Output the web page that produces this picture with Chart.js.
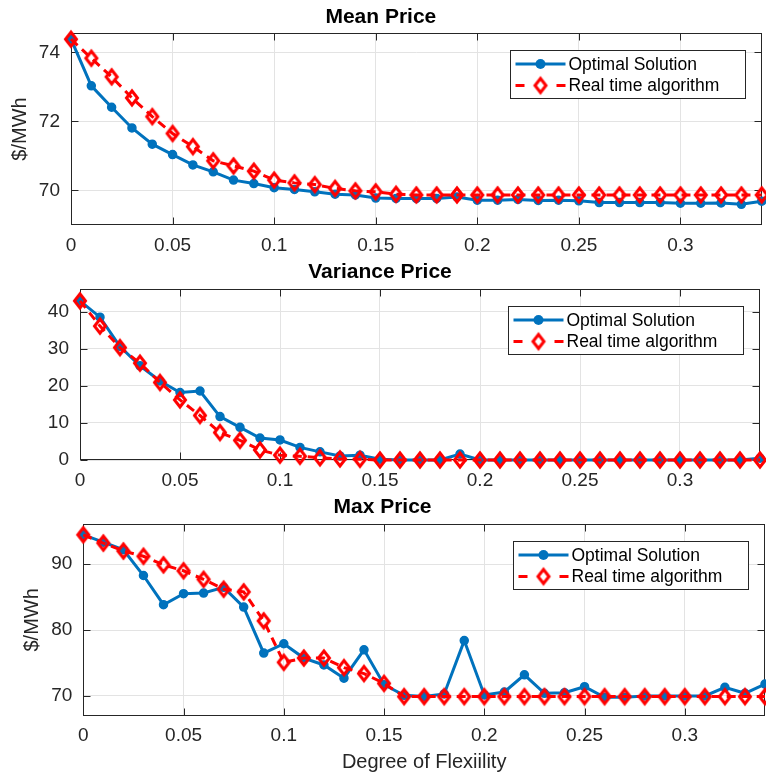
<!DOCTYPE html>
<html>
<head>
<meta charset="utf-8">
<script src="https://cdn.jsdelivr.net/npm/chart.js@4.4.1/dist/chart.umd.min.js"></script>
<style>
  body { margin: 0; background: #fff; }
  #wrap { position: relative; width: 766px; height: 776px; }
  canvas { position: absolute; left: 0; }
</style>
</head>
<body>
<div id="wrap">
  <canvas id="meanChart" width="766" height="255" style="top:0"></canvas>
  <canvas id="varChart" width="766" height="235" style="top:255px"></canvas>
  <canvas id="maxChart" width="766" height="286" style="top:490px"></canvas>
</div>
<script>
// degree of flexibility (x)
const flexibility = [0, 0.01, 0.02, 0.03, 0.04, 0.05, 0.06, 0.07, 0.08, 0.09,
  0.1, 0.11, 0.12, 0.13, 0.14, 0.15, 0.16, 0.17, 0.18, 0.19,
  0.2, 0.21, 0.22, 0.23, 0.24, 0.25, 0.26, 0.27, 0.28, 0.29,
  0.3, 0.31, 0.32, 0.33, 0.34];

const seriesNames = ['Optimal Solution', 'Real time algorithm'];
const panelTitles = ['Mean Price', 'Variance Price', 'Max Price'];
const yAxisTitle = '$/MWh';
const xAxisTitle = 'Degree of Flexiility';

const xTickValues = [0, 0.05, 0.1, 0.15, 0.2, 0.25, 0.3];
const meanTicks = [70, 72, 74];
const varianceTicks = [0, 10, 20, 30, 40];
const maxTicks = [70, 80, 90];

const meanOptimal = [74.38, 73.03, 72.41, 71.81, 71.34, 71.04, 70.74, 70.54, 70.30, 70.20,
  70.08, 70.03, 69.96, 69.89, 69.87, 69.78, 69.77, 69.77, 69.77, 69.81,
  69.72, 69.72, 69.74, 69.71, 69.72, 69.70, 69.65, 69.65, 69.65, 69.65,
  69.63, 69.63, 69.64, 69.60, 69.69];
const meanRealTime = [74.38, 73.83, 73.29, 72.68, 72.14, 71.65, 71.27, 70.86, 70.71, 70.56,
  70.30, 70.22, 70.17, 70.06, 69.99, 69.96, 69.89, 69.87, 69.87, 69.87,
  69.87, 69.87, 69.87, 69.87, 69.87, 69.87, 69.87, 69.87, 69.87, 69.87,
  69.87, 69.87, 69.87, 69.87, 69.87];

const varianceOptimal = [42.9, 38.5, 30.6, 25.4, 21.3, 18.2, 18.6, 11.7, 8.8, 5.9,
  5.4, 3.4, 2.2, 1.1, 1.3, 0.2, 0, 0, 0, 1.6,
  0, 0, 0, 0, 0, 0, 0, 0, 0, 0,
  0, 0, 0, 0, 0.5];
const varianceRealTime = [42.9, 36.1, 30.3, 26.1, 20.9, 16.2, 12.0, 7.4, 5.3, 2.7,
  1.3, 1.0, 0.6, 0.3, 0.2, 0, 0, 0, 0, 0,
  0, 0, 0, 0, 0, 0, 0, 0, 0, 0,
  0, 0, 0, 0, 0];

const maxOptimal = [94.46, 93.34, 92.18, 88.28, 83.85, 85.52, 85.62, 86.48, 83.49, 76.5,
  77.92, 75.75, 74.7, 72.7, 77.0, 71.7, 70.1, 69.9, 70.3, 78.4,
  70.15, 70.6, 73.2, 70.4, 70.5, 71.4, 69.8, 69.8, 70, 70,
  70, 70, 71.3, 70.4, 71.8];
const maxRealTime = [94.46, 93.2, 92.0, 91.2, 89.9, 89.0, 87.7, 86.2, 85.8, 81.4,
  75.1, 75.75, 75.75, 74.3, 73.4, 71.9, 69.9, 69.9, 69.9, 69.9,
  69.9, 69.9, 69.9, 69.9, 69.9, 69.9, 69.9, 69.9, 69.9, 69.9,
  69.9, 69.9, 69.9, 69.9, 69.9];

const FONT = "'Liberation Sans', Arial, Helvetica, sans-serif";
const BLUE = '#0072BD';
const RED = '#FF0000';
const AXIS = '#262626';
const GRID = '#e3e3e3';

// hollow diamond, matlab 'd' marker is a bit taller than wide
function makeDiamond() {
  const c = document.createElement('canvas');
  c.width = 18;
  c.height = 22;
  const g = c.getContext('2d');
  g.strokeStyle = RED;
  g.lineWidth = 3;
  g.beginPath();
  g.moveTo(9, 4);
  g.lineTo(14.5, 11);
  g.lineTo(9, 18);
  g.lineTo(3.5, 11);
  g.closePath();
  g.stroke();
  return c;
}
const diamond = makeDiamond();

const toPoints = (ys) => flexibility.map((x, i) => ({ x: x, y: ys[i] }));

// box around the axes with inward ticks on all four sides
const framePlugin = {
  id: 'frame',
  beforeDatasetsDraw(chart) {
    const { ctx, chartArea: a, scales } = chart;
    const l = Math.round(a.left) + 0.5, r = Math.round(a.right) - 0.5;
    const t = Math.round(a.top) + 0.5, b = Math.round(a.bottom) - 0.5;
    const tl = 7;
    ctx.save();
    ctx.strokeStyle = AXIS;
    ctx.lineWidth = 1;
    ctx.beginPath();
    xTickValues.forEach(v => {
      const px = Math.round(scales.x.getPixelForValue(v)) + 0.5;
      ctx.moveTo(px, b); ctx.lineTo(px, b - tl);
      ctx.moveTo(px, t); ctx.lineTo(px, t + tl);
    });
    chart.options.yTickValues.forEach(v => {
      const py = Math.round(scales.y.getPixelForValue(v)) + 0.5;
      ctx.moveTo(l, py); ctx.lineTo(l + tl, py);
      ctx.moveTo(r, py); ctx.lineTo(r - tl, py);
    });
    ctx.stroke();
    ctx.strokeRect(l, t, r - l, b - t);
    ctx.restore();
  }
};

const legendPlugin = {
  id: 'legendBox',
  afterDatasetsDraw(chart) {
    const { ctx, chartArea: a } = chart;
    const w = 235, h = 48;
    const bx = Math.round(a.right - 17 - w) + 0.5;
    const by = Math.round(a.top + 17) + 0.5;
    const y1 = by + 13.5, y2 = by + 35;
    ctx.save();
    ctx.fillStyle = '#fff';
    ctx.fillRect(bx, by, w, h);
    ctx.strokeStyle = AXIS;
    ctx.lineWidth = 1;
    ctx.strokeRect(bx, by, w, h);

    ctx.strokeStyle = BLUE;
    ctx.lineWidth = 3;
    ctx.beginPath();
    ctx.moveTo(bx + 5, y1);
    ctx.lineTo(bx + 55, y1);
    ctx.stroke();
    ctx.fillStyle = BLUE;
    ctx.beginPath();
    ctx.arc(bx + 30, y1, 5, 0, Math.PI * 2);
    ctx.fill();

    ctx.strokeStyle = RED;
    ctx.beginPath();
    ctx.moveTo(bx + 5, y2); ctx.lineTo(bx + 14, y2);
    ctx.moveTo(bx + 46, y2); ctx.lineTo(bx + 55, y2);
    ctx.stroke();
    ctx.drawImage(diamond, bx + 30 - diamond.width / 2, y2 - diamond.height / 2);

    ctx.fillStyle = '#000';
    ctx.font = '17.5px ' + FONT;
    ctx.textBaseline = 'middle';
    ctx.fillText(seriesNames[0], bx + 58, y1 + 1);
    ctx.fillText(seriesNames[1], bx + 58, y2 + 1);
    ctx.restore();
  }
};

function makePanel(id, p) {
  return new Chart(document.getElementById(id), {
    type: 'line',
    data: {
      datasets: [
        {
          label: seriesNames[0],
          data: toPoints(p.optimal),
          borderColor: BLUE,
          backgroundColor: BLUE,
          borderWidth: 3,
          pointRadius: 4,
          pointBorderWidth: 1.5,
          pointBackgroundColor: BLUE,
          pointBorderColor: BLUE,
          tension: 0,
          clip: false,
          order: 1
        },
        {
          label: seriesNames[1],
          data: toPoints(p.realTime),
          borderColor: RED,
          borderWidth: 3,
          borderDash: [9, 6],
          pointStyle: diamond,
          pointRadius: 7,
          tension: 0,
          clip: false,
          order: 0
        }
      ]
    },
    options: {
      responsive: false,
      animation: false,
      events: [],
      yTickValues: p.yTicks,
      layout: { autoPadding: false, padding: { left: 0, right: p.right, top: 0, bottom: 0 } },
      plugins: {
        legend: { display: false },
        tooltip: { enabled: false },
        title: {
          display: true,
          text: p.title,
          color: '#000',
          font: { family: FONT, size: 21, weight: 'bold' },
          padding: { top: p.titleTop, bottom: p.areaTop - p.titleTop - 25.2 }
        }
      },
      scales: {
        x: {
          type: 'linear',
          min: 0,
          max: 0.34,
          afterBuildTicks: s => { s.ticks = xTickValues.map(v => ({ value: v })); },
          afterFit: s => { s.height = p.xHeight; },
          grid: { color: GRID, drawTicks: false },
          border: { display: false },
          ticks: {
            font: { family: FONT, size: 19 },
            color: AXIS,
            padding: 9,
            maxRotation: 0,
            autoSkip: false,
            callback: v => String(+v.toFixed(2))
          },
          title: {
            display: !!p.xTitle,
            text: xAxisTitle,
            color: AXIS,
            font: { family: FONT, size: 20 },
            padding: { top: 0, bottom: 2 }
          }
        },
        y: {
          min: p.yMin,
          max: p.yMax,
          afterBuildTicks: s => { s.ticks = p.yTicks.map(v => ({ value: v })); },
          afterFit: s => { s.width = p.left; },
          grid: { color: GRID, drawTicks: false },
          border: { display: false },
          ticks: {
            font: { family: FONT, size: 19 },
            color: AXIS,
            padding: 11,
            callback: v => String(v)
          },
          title: {
            display: !!p.yTitle,
            text: yAxisTitle,
            color: AXIS,
            font: { family: FONT, size: 20 },
            padding: { top: p.yTitlePad || 0, bottom: 0 }
          }
        }
      }
    },
    plugins: [framePlugin, legendPlugin]
  });
}

makePanel('meanChart', {
  title: panelTitles[0], optimal: meanOptimal, realTime: meanRealTime,
  yMin: 69, yMax: 74.56, yTicks: meanTicks,
  left: 71, right: 4.3, titleTop: 5, areaTop: 33, xHeight: 30,
  yTitle: true, yTitlePad: 8.5
});

makePanel('varChart', {
  title: panelTitles[1], optimal: varianceOptimal, realTime: varianceRealTime,
  yMin: 0, yMax: 46.1, yTicks: varianceTicks,
  left: 80, right: 6, titleTop: 5, areaTop: 34, xHeight: 30
});

makePanel('maxChart', {
  title: panelTitles[2], optimal: maxOptimal, realTime: maxRealTime,
  yMin: 67, yMax: 96.1, yTicks: maxTicks,
  left: 83.3, right: 1, titleTop: 5, areaTop: 34, xHeight: 60.3,
  yTitle: true, yTitlePad: 20, xTitle: true
});
</script>
</body>
</html>
